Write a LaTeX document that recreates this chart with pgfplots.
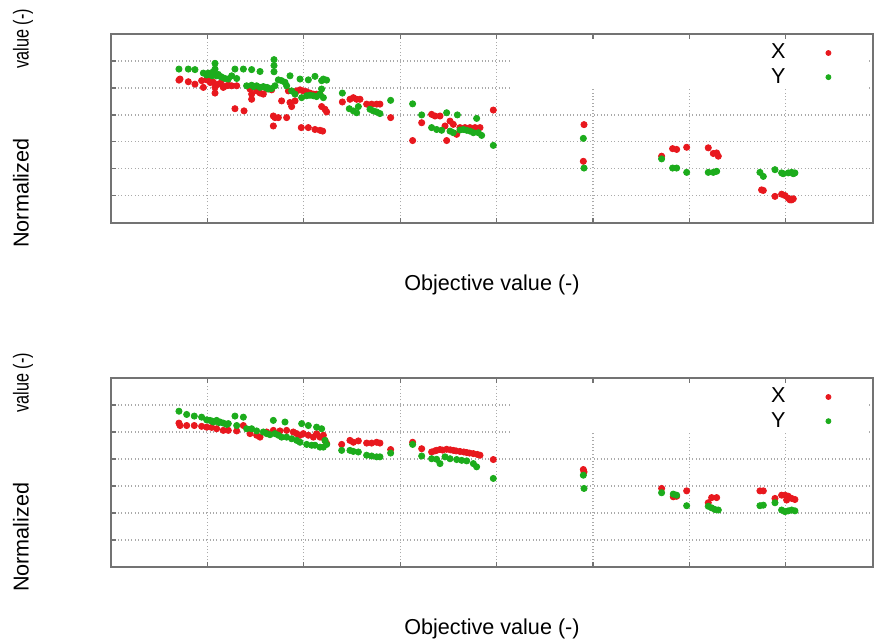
\documentclass[border=0pt]{standalone}
\usepackage{fontspec}
\setmainfont{Liberation Sans}
\usepackage{pgfplots}
\pgfplotsset{compat=1.18}
\definecolor{xred}{RGB}{232,24,30}
\definecolor{ygreen}{RGB}{28,172,28}
\definecolor{framegray}{RGB}{115,115,115}
\definecolor{gridgray}{RGB}{170,170,170}
\pgfplotsset{
  panel/.style={
    scale only axis, width=381pt, height=#1,
    xmin=0, xmax=7.905, ymin=0, ymax=7,
    xtick={1,...,7}, ytick={1,...,6},
    xticklabels={}, yticklabels={},
    ytick pos=left,
    grid=major,
    major grid style={gridgray, line width=0.6pt, dash pattern=on 0.5pt off 1.2pt},
    axis line style={framegray, line width=0.9pt},
    tick style={framegray, line width=0.6pt},
    major tick length=2.5pt,
    tick align=inside,
    xlabel={Objective value (-)},
    ylabel={Normalized\hspace{35pt}\scalebox{0.75}[1]{value (-)}},
    xlabel style={at={(axis description cs:0.5,-0.33)}, anchor=center},
    ylabel style={at={(axis description cs:-0.1155,0.5)}, anchor=center},
    label style={font=\fontsize{10.8}{13}\selectfont},
    legend plot pos=right,
    legend style={draw=none, fill=none, inner sep=0pt,
      at={(axis description cs:0.8701,0.970)}, anchor=north west,
      cells={anchor=center},
      nodes={inner sep=2pt, text depth=0.15em, font=\fontsize{10.8}{13}\selectfont},
      row sep=-0.85pt},
    legend image code/.code={\path[draw=none,fill=none] (-23pt,-3pt) rectangle (3pt,3pt);
      \draw[mark repeat=2,mark phase=2,##1,mark size=1.25pt] plot coordinates {(-10pt,0pt) (0pt,0pt) (2pt,0pt)};},
  },
  xs/.style={only marks, mark=*, color=xred, mark size=1.55pt, mark options={draw=none, fill=xred}},
  ys/.style={only marks, mark=*, color=ygreen, mark size=1.55pt, mark options={draw=none, fill=ygreen}},
}
\begin{document}
\begin{tikzpicture}
\useasboundingbox (0pt,0pt) rectangle (437pt,-321.5pt);
% ---------------- top panel ----------------
\begin{axis}[panel=94.4pt, at={(55.5pt,-17pt)}, anchor=north west]
\fill[white] (axis description cs:0.526,0.9735) rectangle (axis description cs:0.9934,0.71);
\addplot[xs] coordinates {
(0.705,5.29)(0.716,5.33)(0.802,5.23)(0.871,5.14)(0.940,5.27)(0.958,5.02)(0.992,5.30)(1.027,5.27)(1.062,5.21)(1.079,5.02)(1.079,4.81)(1.113,5.14)(1.165,5.02)(1.200,5.08)(1.252,5.08)(1.304,5.08)(1.286,4.23)(1.380,4.15)(1.03,5.20)(1.14,5.18)(1.22,5.10)
(1.442,4.96)(1.459,4.77)(1.459,4.58)(1.511,4.89)(1.546,4.81)(1.580,4.77)(1.615,4.96)(1.667,4.93)(1.684,3.96)(1.701,3.90)(1.684,3.59)(1.736,3.90)(1.770,4.52)(1.822,3.90)(1.840,4.89)(1.857,4.46)(1.874,4.31)(1.909,4.52)(1.926,4.89)(1.961,4.93)(1.995,4.89)(2.030,4.86)(2.064,4.81)(2.099,4.77)(2.133,4.77)(2.168,4.77)(1.974,3.53)(2.047,3.53)(2.116,3.46)(2.168,3.43)(2.196,3.40)(2.185,4.31)(2.220,4.21)(2.237,4.11)
(2.400,4.48)(2.479,4.58)(2.514,4.64)(2.548,4.58)(2.583,4.58)(2.652,4.40)(2.704,4.40)(2.756,4.40)(2.790,4.40)(2.901,3.90)
(3.129,3.05)(3.223,3.71)(3.326,4.02)(3.361,3.96)(3.413,3.96)(3.465,3.59)(3.482,3.05)(3.517,3.77)(3.551,3.65)(3.586,3.28)(3.620,3.53)(3.672,3.53)(3.724,3.53)(3.776,3.53)(3.828,3.53)(3.966,4.18)
(4.907,3.64)(4.900,2.28)(5.712,2.47)(5.826,2.75)(5.868,2.72)(5.972,2.80)(6.196,2.78)(6.248,2.57)(6.283,2.59)(6.300,2.47)(6.749,1.22)(6.767,1.20)(6.888,0.98)(6.957,1.06)(6.992,1.01)(7.026,0.91)(7.044,0.85)(7.061,0.85)(7.078,0.89)
};
\addlegendentry{\makebox[0pt]{X}}
\addplot[ys] coordinates {
(0.705,5.70)(0.802,5.70)(0.871,5.68)
(0.958,5.55)(0.992,5.48)(1.027,5.51)(1.079,5.91)(1.079,5.70)(1.096,5.45)(1.131,5.43)(1.183,5.35)(1.217,5.33)(1.252,5.45)(1.286,5.70)(1.304,5.35)(1.373,5.70)(1.459,5.68)(1.546,5.61)(1.01,5.55)(1.05,5.45)(1.113,5.50)(1.15,5.40)(1.06,5.60)
(1.407,5.08)(1.459,5.10)(1.511,5.08)(1.546,5.02)(1.598,5.02)(1.632,4.96)(1.667,4.98)(1.701,5.08)(1.691,6.05)(1.691,5.83)(1.691,5.60)(1.736,5.30)(1.770,5.27)(1.805,5.21)(1.857,5.45)(1.822,5.08)(1.874,4.89)(1.909,4.77)(1.961,5.33)(1.978,4.64)(2.030,4.71)(2.047,5.30)(2.064,4.73)(2.099,4.71)(2.116,5.43)(2.133,4.68)(2.168,4.77)(2.185,5.27)(2.203,5.33)(2.237,5.29)(2.185,4.96)(2.203,4.64)(1.48,5.05)(1.58,5.05)(1.62,5.02)
(2.400,4.81)(2.472,4.23)(2.514,4.15)(2.548,4.08)(2.566,4.31)(2.687,4.21)(2.721,4.15)(2.756,4.11)(2.790,4.05)(2.901,4.54)
(3.129,4.41)(3.223,4.00)(3.326,3.53)(3.378,3.46)(3.430,3.43)(3.482,4.08)(3.517,3.40)(3.551,3.34)(3.593,4.00)(3.620,3.44)(3.655,3.46)(3.690,3.43)(3.724,3.40)(3.759,3.34)(3.793,3.87)(3.811,3.34)(3.845,3.24)(3.966,2.87)
(4.900,3.13)(4.907,2.03)(5.712,2.37)(5.826,2.03)(5.868,2.03)(5.972,1.87)(6.196,1.87)(6.248,1.87)(6.283,1.91)(6.732,1.87)(6.767,1.72)(6.888,1.97)(6.957,1.85)(6.974,1.82)(7.026,1.85)(7.061,1.87)(7.078,1.82)(7.095,1.85)
};
\addlegendentry{\makebox[0pt]{Y}}
\end{axis}
% ---------------- bottom panel ----------------
\begin{axis}[panel=94.5pt, at={(55.5pt,-189pt)}, anchor=north west]
\fill[white] (axis description cs:0.526,0.9735) rectangle (axis description cs:0.9934,0.71);
\addplot[xs] coordinates {
(0.705,5.33)(0.716,5.24)(0.785,5.24)(0.864,5.24)(0.940,5.21)(0.992,5.18)(1.044,5.17)(1.096,5.12)(1.165,5.06)(1.217,5.06)(1.304,5.04)(1.373,5.24)(1.442,4.94)(1.511,4.88)(1.546,4.81)(1.615,5.00)(1.684,5.06)(1.753,5.04)(1.822,5.06)(1.891,5.00)(1.926,4.94)(1.961,4.88)(1.995,4.94)(2.047,4.88)(2.099,4.81)(2.133,4.94)(2.168,4.81)(2.203,4.88)(2.220,4.69)(2.237,4.57)
(2.393,4.54)(2.479,4.69)(2.514,4.62)(2.566,4.67)(2.652,4.59)(2.704,4.59)(2.756,4.62)(2.790,4.59)(2.901,4.35)
(3.129,4.62)(3.223,4.38)(3.326,4.26)(3.378,4.32)(3.413,4.35)(3.482,4.36)(3.551,4.32)(3.620,4.28)(3.690,4.24)(3.759,4.20)(3.828,4.14)(3.966,3.98)(3.36,4.30)(3.44,4.33)(3.52,4.34)(3.58,4.30)(3.66,4.26)(3.72,4.22)(3.80,4.17)
(4.900,3.61)(4.907,3.52)(5.712,2.91)(5.833,2.60)(5.868,2.62)(5.972,2.82)(6.196,2.38)(6.231,2.57)(6.283,2.57)(6.732,2.82)(6.767,2.82)(6.888,2.54)(6.957,2.66)(6.992,2.66)(7.009,2.48)(7.026,2.62)(7.061,2.54)(7.095,2.50)
};
\addlegendentry{\makebox[0pt]{X}}
\addplot[ys] coordinates {
(0.705,5.77)(0.785,5.65)(0.864,5.59)(0.940,5.55)(0.992,5.45)(1.027,5.43)(1.062,5.37)(1.096,5.43)(1.131,5.37)(1.165,5.33)(1.217,5.31)(1.286,5.59)(1.304,5.24)(1.373,5.55)(1.407,5.12)(1.459,5.12)(1.511,5.04)(1.580,5.00)(1.615,4.94)(1.649,4.90)(1.684,5.43)(1.701,4.94)(1.736,4.88)(1.770,4.81)(1.805,5.37)(1.822,4.81)(1.874,4.75)(1.926,4.69)(1.961,4.62)(1.978,5.31)(2.030,4.54)(2.047,5.24)(2.082,4.51)(2.116,4.51)(2.133,5.18)(2.168,4.44)(2.185,5.12)(2.203,4.44)(2.220,4.69)(2.237,4.54)(1.05,5.40)(1.12,5.35)(1.20,5.28)
(2.393,4.32)(2.479,4.32)(2.514,4.28)(2.566,4.26)(2.652,4.14)(2.704,4.11)(2.756,4.08)(2.790,4.08)(2.901,4.22)
(3.129,4.54)(3.223,4.11)(3.326,4.01)(3.378,3.99)(3.413,3.83)(3.465,4.08)(3.517,4.01)(3.586,3.98)(3.638,3.95)(3.690,3.93)(3.759,3.83)(3.793,3.71)(3.966,3.28)
(4.900,3.40)(4.907,2.91)(5.712,2.75)(5.833,2.70)(5.868,2.66)(5.972,2.27)(6.196,2.25)(6.231,2.19)(6.265,2.13)(6.300,2.11)(6.732,2.27)(6.767,2.29)(6.888,2.38)(6.957,2.11)(6.992,2.05)(7.026,2.08)(7.061,2.11)(7.095,2.08)
};
\addlegendentry{\makebox[0pt]{Y}}
\end{axis}
\end{tikzpicture}
\end{document}
